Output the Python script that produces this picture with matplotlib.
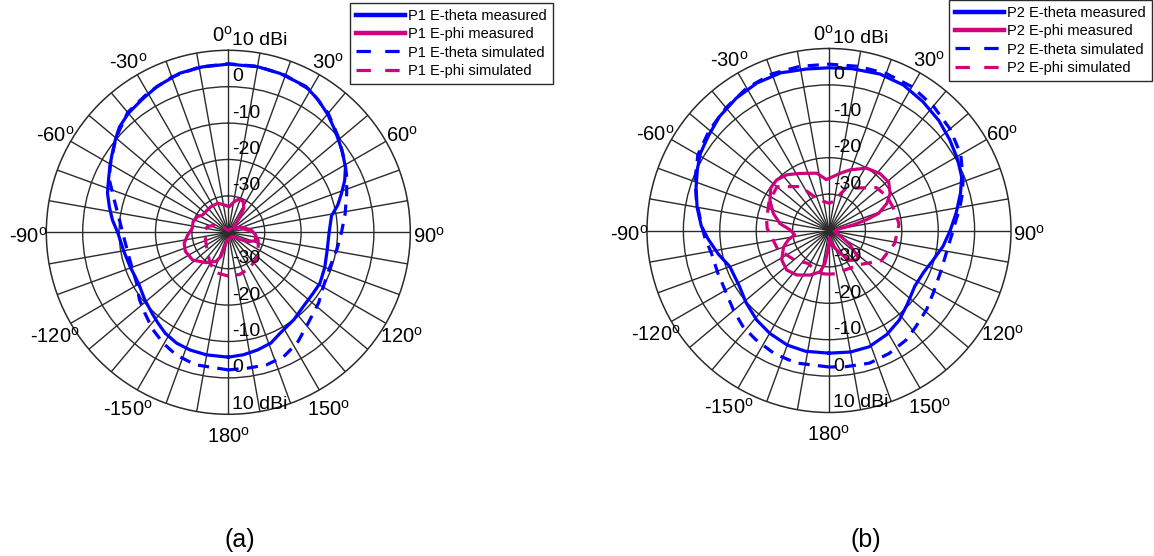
import numpy as np
import matplotlib
matplotlib.use("Agg")
import matplotlib.pyplot as plt
import matplotlib.transforms as mtransforms
from matplotlib.lines import Line2D

plt.rcParams['font.family'] = ['Liberation Sans', 'DejaVu Sans']
plt.rcParams['mathtext.fontset'] = 'custom'
plt.rcParams['mathtext.rm'] = 'Liberation Sans'

# ---- (a) port 1 ----
angP1ThetaMeas = [-180, -170, -162, -155, -148, -142, -137, -129, -120, -109, -100, -90, -84, -78, -72, -66,
                  -61, -56, -51, -46, -40, -33, -26, -17, -9, 0, 10, 18, 28, 34, 40, 45, 50, 55, 61, 66,
                  71, 76, 81, 90, 100, 110, 119, 126, 135, 143, 153, 159, 166, 173, 180]
p1ThetaMeas = [-5.7, -5.8, -6.0, -6.4, -7.3, -8.5, -9.4, -10.5, -11.6, -11.4, -10.8, -9.6, -8.0, -6.6, -5.1, -4.0,
               -2.8, -1.5, 0.0, 1.6, 2.7, 3.5, 4.6, 5.7, 6.0, 6.2, 6.2, 5.9, 5.4, 4.0, 2.4, 0.9, -0.5, -1.7, -3.2, -5.0,
               -7.1, -9.0, -11.3, -12.3, -12.4, -11.8, -11.2, -11.3, -11.0, -10.0, -8.8, -7.4, -6.7, -6.1, -5.7]

angP1ThetaSim = [-180, -166, -157, -150, -142, -134, -127, -119, -106, -94, -84, -75, -66, -60, -50, -40, -30, -20,
                 -10, 0, 10, 20, 30, 40, 50, 60, 65, 72, 81, 90, 99, 109, 120, 128, 139, 148, 156, 164, 172, 180]
p1ThetaSim = [-2.2, -2.5, -3.4, -4.6, -6.2, -8.1, -9.4, -11.2, -11.9, -11.4, -10.0, -7.7, -4.2, -2.6, 0.3, 3.0, 4.2, 5.4,
              6.1, 6.3, 6.3, 5.9, 5.1, 2.7, -0.2, -2.9, -4.1, -5.8, -7.5, -8.9, -9.8, -10.5, -9.9, -8.5, -6.7, -4.2, -2.6,
              -2.1, -2.3, -2.2]

angP1PhiMeas = [-180, -170, -163, -157, -144, -128, -114, -104, -94, -84, -73, -63, -56, -45, -34, -20, -8, 2, 11,
                18, 26, 33, 37, 45, 55, 65, 71, 84, 96, 107, 114, 120, 130, 150, 170, 180]
p1PhiMeas = [-38.0, -37.5, -33.0, -31.3, -29.7, -27.6, -27.1, -27.5, -28.8, -30.0, -29.9, -30.5, -31.5, -31.6, -31.5,
             -31.5, -32.4, -33.0, -31.4, -30.4, -30.6, -32.2, -34.6, -37.5, -38.0, -37.0, -35.8, -33.7, -32.4, -32.2,
             -33.7, -36.0, -38.0, -38.5, -38.0, -38.0]

angP1PhiSim = [-180, -165, -150, -135, -120, -105, -90, -75, -60, -45, -30, 0, 30, 60, 90, 105, 120, 132, 150, 165, 180]
p1PhiSim = [-28.0, -28.4, -30.0, -32.0, -33.0, -33.5, -33.3, -34.0, -36.0, -38.0, -39.0, -39.5, -39.0, -37.0, -33.0,
            -31.5, -30.5, -29.5, -28.5, -28.0, -28.0]

# ---- (b) port 2 ----
angP2ThetaMeas = [-180, -169, -160, -150, -141, -131, -122, -110, -102, -94, -88, -80, -72, -65, -59, -52, -44, -35,
                  -26, -17, -8, 0, 8, 18, 27, 36, 45, 53, 61, 68, 74, 82, 90, 98, 106, 114, 123, 133, 142, 151, 161,
                  170, 180]
p2ThetaMeas = [-6.3, -6.2, -6.5, -7.4, -8.4, -9.8, -11.0, -11.0, -8.9, -6.7, -4.9, -3.2, -1.6, -0.1, 1.2, 2.1, 3.4, 4.4,
               5.1, 5.3, 4.8, 4.7, 4.9, 5.2, 4.9, 3.8, 2.7, 1.5, 0.4, -0.7, -2.4, -4.7, -6.7, -8.4, -10.3, -11.6, -11.9,
               -10.5, -8.7, -7.3, -6.2, -6.1, -6.3]

angP2ThetaSim = [-180, -166, -156, -146, -138, -130, -121, -111, -101, -93, -85, -77, -69, -60, -50, -40, -30, -20,
                 -10, 0, 10, 20, 30, 40, 50, 60, 64, 69, 74, 80, 85, 93, 101, 109, 121, 129, 138, 145, 154, 163, 173, 180]
p2ThetaSim = [-2.5, -2.5, -3.0, -3.9, -4.6, -5.8, -7.0, -7.3, -7.1, -5.8, -4.5, -2.6, -0.6, 1.6, 2.9, 4.0, 5.2, 5.8,
              5.8, 5.7, 5.8, 5.9, 5.6, 4.6, 3.4, 1.8, 0.6, -0.6, -1.8, -3.5, -4.9, -6.4, -7.2, -7.3, -6.6, -5.5, -4.4,
              -3.2, -2.4, -1.9, -2.3, -2.5]

angP2PhiMeas = [-180, -173, -168, -157, -144, -133, -122, -110, -103, -97, -89, -82, -73, -63, -54, -46, -37, -27,
                -12, -3, 11, 19, 31, 42, 51, 59, 65, 71, 74, 77, 82, 100, 118, 124, 129, 132, 137, 145, 154, 162, 170,
                176, 180]
p2PhiMeas = [-36.0, -30.9, -28.4, -26.7, -24.9, -24.1, -24.7, -26.7, -28.5, -30.5, -29.3, -26.4, -24.0, -21.8, -20.2,
             -20.0, -20.8, -22.4, -23.9, -26.0, -24.0, -22.4, -20.0, -19.0, -18.9, -20.4, -22.5, -25.6, -29.3, -33.2,
             -37.5, -38.5, -36.0, -33.0, -31.4, -29.2, -28.9, -30.0, -33.0, -35.0, -36.5, -38.0, -36.0]

angP2PhiSim = [-180, -172, -160, -148, -130, -110, -88, -80, -65, -50, -33, -19, 0, 8, 22, 34, 48, 60, 75, 85, 101,
               120, 138, 158, 172, 180]
p2PhiSim = [-28.0, -28.0, -28.5, -29.3, -27.5, -25.0, -23.0, -22.6, -21.8, -21.3, -25.6, -31.0, -32.5, -32.0, -27.4,
            -25.9, -22.4, -21.5, -21.0, -20.7, -21.6, -23.4, -27.4, -28.3, -28.0, -28.0]

ringLevels = [-30, -20, -10, 0]
angleTicks = [0, 30, 60, 90, 120, 150, 180, -150, -120, -90, -60, -30]
panelNames = ['(a)', '(b)']

blue = '#0000FF'
pink = '#D0007F'
gridColor = '#2B2B2B'
dashes = (3.5, 2.6)


def polarAxis(fig, rect):
    ax = fig.add_axes(rect, projection='polar')
    ax.set_theta_zero_location('N')
    ax.set_theta_direction(-1)
    ax.set_ylim(-40, 10)
    ax.set_thetagrids(np.arange(0, 360, 10), labels=[])
    ax.set_rgrids(ringLevels, labels=[])
    ax.grid(True, color=gridColor, linewidth=1.0)
    ax.spines['polar'].set_color(gridColor)
    ax.spines['polar'].set_linewidth(1.1)
    ax.tick_params(length=0)

    for a in angleTicks:
        # the 0 label sits a little left so it clears "10 dBi"
        dx = -6 if a == 0 else 0
        shift = mtransforms.offset_copy(ax.transData, fig=fig, x=dx, y=-4, units='dots')
        ax.text(np.deg2rad(a), 15.0, '%d$^{\\mathregular{o}}$' % a, transform=shift,
                ha='center', va='center', fontsize=14.5)

    offset = mtransforms.offset_copy(ax.transData, fig=fig, x=4, y=10, units='dots')
    for r in ringLevels + [10]:
        label = '10 dBi' if r == 10 else str(r)
        ax.text(0, r, label, transform=offset, ha='left', va='center', fontsize=14, zorder=5)
        ax.text(np.pi, r, label, transform=offset, ha='left', va='center', fontsize=14, zorder=5)
    return ax


def drawCurve(ax, ang, val, color, dashed):
    ax.plot(np.deg2rad(ang), val, color=color, linewidth=2.3,
            linestyle=(0, dashes) if dashed else '-', zorder=3)


def addLegend(fig, port, anchor):
    handles = [Line2D([], [], color=blue, linewidth=3.2),
               Line2D([], [], color=pink, linewidth=3.2),
               Line2D([], [], color=blue, linewidth=2.3, linestyle=(0, (4.5, 4.5))),
               Line2D([], [], color=pink, linewidth=2.3, linestyle=(0, (4.5, 4.5)))]
    labels = [port + ' E-theta measured', port + ' E-phi measured',
              port + ' E-theta simulated', port + ' E-phi simulated']
    leg = fig.legend(handles, labels, loc='upper left', bbox_to_anchor=anchor, fontsize=10.5,
                     frameon=True, fancybox=False, edgecolor=gridColor, framealpha=1,
                     handlelength=3.4, handletextpad=0.2, labelspacing=0.3, borderpad=0.4,
                     borderaxespad=0)
    leg.get_frame().set_linewidth(1.0)


fig = plt.figure(figsize=(11.54, 5.56), dpi=100)

axA = polarAxis(fig, [46.3 / 1154, (556 - 232.3 - 182) / 556, 364 / 1154, 364 / 556])
drawCurve(axA, angP1ThetaMeas, p1ThetaMeas, blue, False)
drawCurve(axA, angP1PhiMeas, p1PhiMeas, pink, False)
drawCurve(axA, angP1ThetaSim, p1ThetaSim, blue, True)
drawCurve(axA, angP1PhiSim, p1PhiSim, pink, True)

axB = polarAxis(fig, [647.0 / 1154, (556 - 230.5 - 182) / 556, 364 / 1154, 364 / 556])
drawCurve(axB, angP2ThetaMeas, p2ThetaMeas, blue, False)
drawCurve(axB, angP2PhiMeas, p2PhiMeas, pink, False)
drawCurve(axB, angP2ThetaSim, p2ThetaSim, blue, True)
drawCurve(axB, angP2PhiSim, p2PhiSim, pink, True)

addLegend(fig, 'P1', (350 / 1154, 1 - 3 / 556))
addLegend(fig, 'P2', (949 / 1154, 1.0))

fig.text(240 / 1154, 1 - 540 / 556, panelNames[0], ha='center', va='center', fontsize=18)
fig.text(866 / 1154, 1 - 540 / 556, panelNames[1], ha='center', va='center', fontsize=18)

fig.savefig('out.png', dpi=100, facecolor='white')
